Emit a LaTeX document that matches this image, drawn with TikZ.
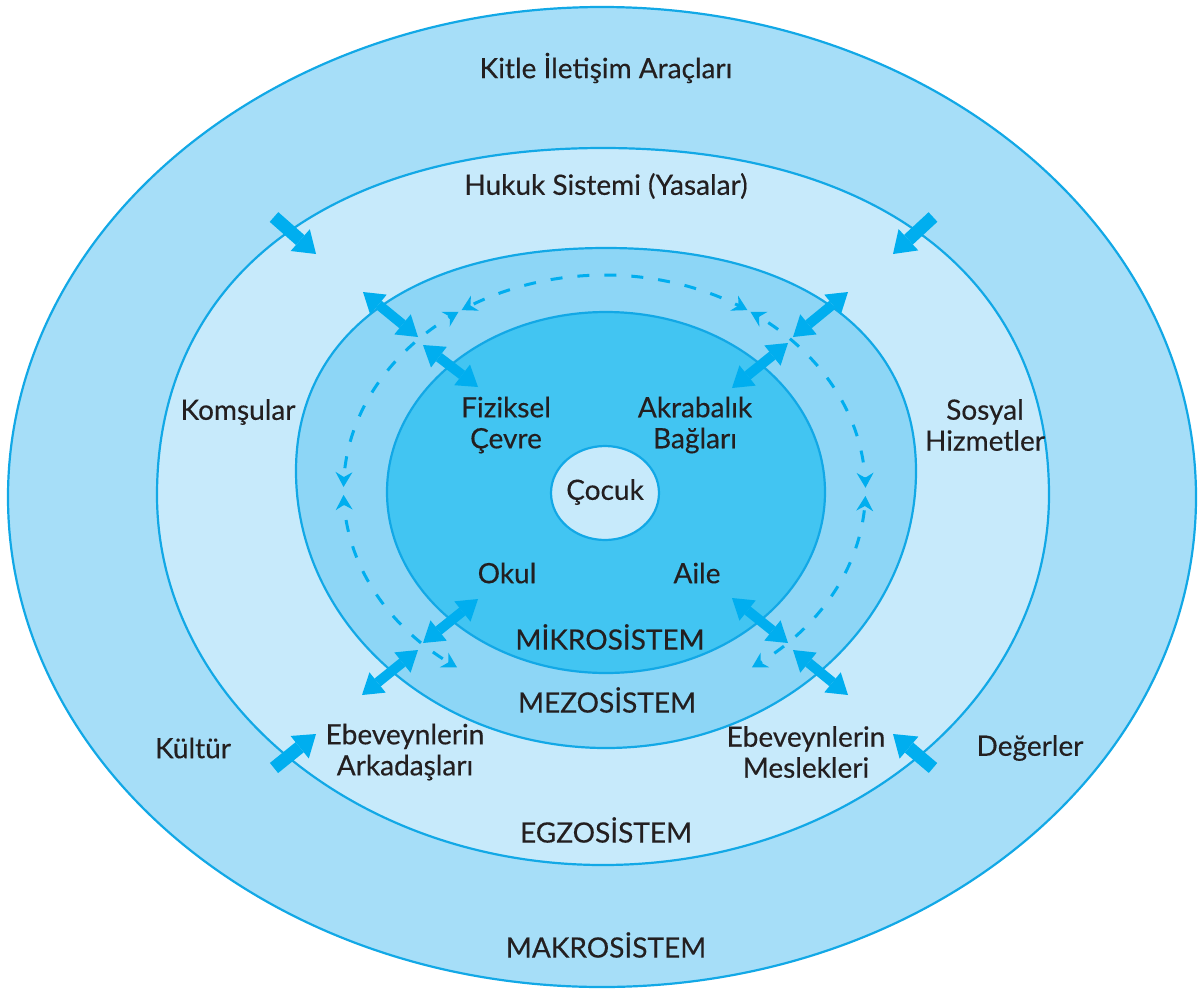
\documentclass[tikz,border=0pt]{standalone}
\usepackage{fontspec}
\setmainfont{Lato}
\newfontfamily\lblfont{Lato}[FakeBold=0.35]
\usetikzlibrary{arrows.meta}
\definecolor{makro}{HTML}{A6DEF8}
\definecolor{egzo}{HTML}{C7EAFB}
\definecolor{mezo}{HTML}{8DD6F6}
\definecolor{mikro}{HTML}{42C5F2}
\definecolor{edge}{HTML}{12A8E6}
\definecolor{arrowblue}{HTML}{00AEEF}
\definecolor{txt}{HTML}{231F20}
% cx, yc, rx, ry-top, ry-bottom, k-top, k-bottom
\newcommand{\ringpath}[7]{(#1+#3,#2) .. controls (#1+#3,#2-#6*#4) and (#1+#6*#3,#2-#4) .. (#1,#2-#4) .. controls (#1-#6*#3,#2-#4) and (#1-#3,#2-#6*#4) .. (#1-#3,#2) .. controls (#1-#3,#2+#7*#5) and (#1-#7*#3,#2+#5) .. (#1,#2+#5) .. controls (#1+#7*#3,#2+#5) and (#1+#3,#2+#7*#5) .. (#1+#3,#2) -- cycle}
\tikzset{
  ringline/.style={draw=edge, line width=2.2pt},
  lbl/.style={text=txt, align=center, inner sep=0pt, font=\lblfont\fontsize{28}{31}\selectfont},
  fatarr/.style={draw=arrowblue, line width=10pt,
    {Triangle[width=26pt,length=20pt,line width=0pt]}-{Triangle[width=26pt,length=20pt,line width=0pt]}},
  onearr/.style={draw=arrowblue, line width=13pt,
    -{Triangle[width=29pt,length=21pt,line width=0pt]}},
  dasharc/.style={draw=arrowblue, line width=3pt, dash pattern=on 12pt off 15pt,
    {Stealth[length=15pt,width=17pt,inset=5pt,line width=0pt]}-{Stealth[length=15pt,width=17pt,inset=5pt,line width=0pt]}}
}
\begin{document}
\begin{tikzpicture}[x=1pt,y=-1pt]
\useasboundingbox (0,0) rectangle (1203,989);
\fill[white] (0,0) rectangle (1203,989);
% rings
\fill[makro, ringline] \ringpath{602}{497}{594}{490}{490}{0.5523}{0.5523};
\fill[egzo, ringline] \ringpath{603}{495}{446}{347}{370}{0.62}{0.5523};
\fill[mezo, ringline] \ringpath{606}{471}{310}{223}{277}{0.62}{0.5523};
% dashed arcs
\draw[dasharc] plot[domain=56.8:123.2, samples=50] ({604.5+261*cos(\x)},{490-215*sin(\x)});
\draw[dasharc] plot[domain=124.0:179.2, samples=50] ({604.5+261*cos(\x)},{490-215*sin(\x)});
\draw[dasharc] plot[domain=181.3:235.6, samples=50] ({604.5+261*cos(\x)},{490-215*sin(\x)});
\draw[dasharc] plot[domain=0.6:56.0, samples=50] ({604.5+261*cos(\x)},{490-215*sin(\x)});
\draw[dasharc] plot[domain=-55.6:-1.6, samples=50] ({604.5+261*cos(\x)},{490-215*sin(\x)});
\fill[mikro, ringline] \ringpath{606}{492}{219}{180}{181}{0.5523}{0.5523};
\fill[egzo, ringline] \ringpath{605}{493}{54}{47}{47}{0.5523}{0.5523};
% arrow end points
\coordinate (tl1a) at (363,292); \coordinate (tl1b) at (418,337);
\coordinate (tl2a) at (423,345); \coordinate (tl2b) at (478,387);
\coordinate (tr1a) at (848,292); \coordinate (tr1b) at (793,337);
\coordinate (tr2a) at (788,343); \coordinate (tr2b) at (732,388);
\coordinate (bl1a) at (478,599); \coordinate (bl1b) at (423,643);
\coordinate (bl2a) at (418,650); \coordinate (bl2b) at (362,695);
\coordinate (br1a) at (732,598); \coordinate (br1b) at (788,643);
\coordinate (br2a) at (793,650); \coordinate (br2b) at (848,695);
\coordinate (s1a) at (274,217); \coordinate (s1b) at (316,254);
\coordinate (s2a) at (933,217); \coordinate (s2b) at (893,254);
\coordinate (s3a) at (274,768); \coordinate (s3b) at (316,734);
\coordinate (s4a) at (933,768); \coordinate (s4b) at (893,734);
\draw[fatarr] (tl1a) -- (tl1b);
\draw[fatarr] (tl2a) -- (tl2b);
\draw[fatarr] (tr1a) -- (tr1b);
\draw[fatarr] (tr2a) -- (tr2b);
\draw[fatarr] (bl1a) -- (bl1b);
\draw[fatarr] (bl2a) -- (bl2b);
\draw[fatarr] (br1a) -- (br1b);
\draw[fatarr] (br2a) -- (br2b);
\draw[onearr] (s1a) -- (s1b);
\draw[onearr] (s2a) -- (s2b);
\draw[onearr] (s3a) -- (s3b);
\draw[onearr] (s4a) -- (s4b);
% labels
\node[lbl] (kitle) at (606,68) {Kitle İletişim Araçları};
\node[lbl] (hukuk) at (606,186) {Hukuk Sistemi (Yasalar)};
\node[lbl] (komsu) at (238,412) {Komşular};
\node[lbl] (sosyal) at (985,425) {Sosyal\\Hizmetler};
\node[lbl] (fiz) at (506,425) {Fiziksel\\Çevre};
\node[lbl] (akr) at (695,425) {Akrabalık\\Bağları};
\node[lbl] (cocuk) at (605,492) {Çocuk};
\node[lbl] (okul) at (507,573) {Okul};
\node[lbl] (aile) at (697,573) {Aile};
\node[lbl] (mikrot) at (610,637) {MİKROSİSTEM};
\node[lbl] (mezot) at (607,700) {MEZOSİSTEM};
\node[lbl] (kultur) at (193,748) {Kültür};
\node[lbl] (eark) at (405,752) {Ebeveynlerin\\Arkadaşları};
\node[lbl] (emes) at (806,752) {Ebeveynlerin\\Meslekleri};
\node[lbl] (deger) at (1030,748) {Değerler};
\node[lbl] (egzot) at (606,830) {EGZOSİSTEM};
\node[lbl] (makrot) at (606,945) {MAKROSİSTEM};
\end{tikzpicture}
\end{document}
